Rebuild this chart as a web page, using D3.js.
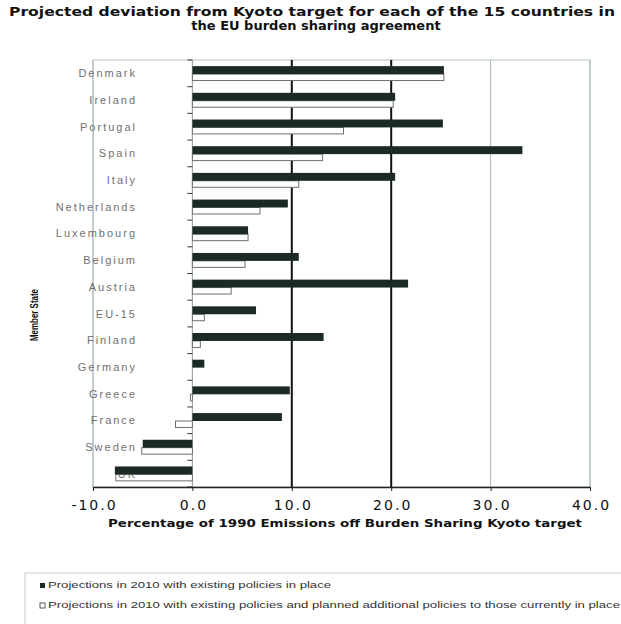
<!DOCTYPE html>
<html>
<head>
<meta charset="utf-8">
<script src="https://cdn.jsdelivr.net/npm/d3@7"></script>
<style>
  html, body { margin: 0; padding: 0; background: #fff; }
  svg { display: block; }
</style>
</head>
<body>
<script>
// Member states, top to bottom
const countries = ["Denmark", "Ireland", "Portugal", "Spain", "Italy", "Netherlands",
  "Luxembourg", "Belgium", "Austria", "EU-15", "Finland", "Germany", "Greece",
  "France", "Sweden", "UK"];
// Projections in 2010 with existing policies in place
const existing = [25.3, 20.4, 25.2, 33.2, 20.4, 9.6, 5.6, 10.7, 21.7, 6.4, 13.2, 1.2, 9.8, 9.0, -5.0, -7.8];
// Projections in 2010 with existing and planned additional policies
const planned = [25.3, 20.2, 15.2, 13.1, 10.7, 6.8, 5.6, 5.3, 3.9, 1.2, 0.8, 0.0, -0.2, -1.7, -5.1, -7.7];
const xTicks = [-10, 0, 10, 20, 30, 40];
const seriesNames = [
  "Projections in 2010 with existing policies in place",
  "Projections in 2010 with existing policies and planned additional policies to those currently in place"
];

const W = 621, H = 624;
const svg = d3.select("body").append("svg").attr("width", W).attr("height", H);

const plotL = 93, plotR = 590, plotT = 60, plotB = 487;
const x = d3.scaleLinear().domain([-10, 40]).range([plotL, plotR]);
const y = d3.scaleBand().domain(countries).range([plotT, plotB]).paddingInner(0.46).paddingOuter(0.23);
// filled bar takes the upper, slightly thicker share of each band
const split = 0.55;

// Title
const title = svg.append("text")
  .attr("font-family", "DejaVu Sans, Verdana, sans-serif")
  .attr("font-weight", "bold").attr("font-size", 13).attr("fill", "#111")
  .attr("text-anchor", "middle");
title.append("tspan").attr("x", 312).attr("y", 16)
  .attr("textLength", 606).attr("lengthAdjust", "spacingAndGlyphs")
  .text("Projected deviation from Kyoto target for each of the 15 countries in");
title.append("tspan").attr("x", 316).attr("y", 30)
  .text("the EU burden sharing agreement");

// Plot frame
svg.append("rect").attr("x", plotL).attr("y", plotT)
  .attr("width", plotR - plotL).attr("height", plotB - plotT)
  .attr("fill", "none").attr("stroke", "#b8c4c8").attr("stroke-width", 1);

// Vertical gridlines
xTicks.forEach(t => {
  const strong = (t === 10 || t === 20);
  svg.append("line")
    .attr("x1", x(t)).attr("x2", x(t)).attr("y1", plotT).attr("y2", plotB)
    .attr("stroke", strong ? "#111" : "#a9b8bd")
    .attr("stroke-width", strong ? 2 : 1);
});

// Y axis at zero with ticks between categories
svg.append("line").attr("x1", x(0)).attr("x2", x(0)).attr("y1", plotT).attr("y2", plotB)
  .attr("stroke", "#9aa8ad").attr("stroke-width", 1);
d3.range(countries.length + 1).forEach(i => {
  const yy = plotT + i * (plotB - plotT) / countries.length;
  svg.append("line").attr("x1", x(0) - 5).attr("x2", x(0)).attr("y1", yy).attr("y2", yy)
    .attr("stroke", "#333").attr("stroke-width", 1);
});

const rows = countries.map((c, i) => ({ c, vals: [existing[i], planned[i]] }));
function bar(sel, v, c, k) {
  const x0 = x(Math.min(0, v)), x1 = x(Math.max(0, v));
  const bw = y.bandwidth();
  const y0 = k === 0 ? y(c) : y(c) + bw * split;
  const h = k === 0 ? bw * split : bw * (1 - split);
  return sel.append("rect")
    .attr("x", x0).attr("y", y0)
    .attr("width", Math.max(0, x1 - x0)).attr("height", h);
}

// Open bars: additional policies
const gOpen = svg.append("g");
rows.forEach(r => {
  bar(gOpen, r.vals[1], r.c, 1)
    .attr("fill", "#fff").attr("stroke", "#6f6f6f").attr("stroke-width", 1);
});

// Category labels
svg.append("g").selectAll("text").data(countries).join("text")
  .attr("x", 137)
  .attr("y", d => y(d) + y.bandwidth() / 2 + 4)
  .attr("text-anchor", "end")
  .attr("font-family", "Liberation Sans, Arial, sans-serif")
  .attr("font-size", 11).attr("letter-spacing", 2)
  .attr("fill", "#707070")
  .text(d => d);

// Filled bars: existing policies
const gFill = svg.append("g");
rows.forEach(r => {
  bar(gFill, r.vals[0], r.c, 0).attr("fill", "#1b2a24");
});

// X axis
const xAxis = d3.axisBottom(x).tickValues(xTicks)
  .tickFormat(d => d3.format(".1f")(d).replace("\u2212", "-"))
  .tickSize(4).tickSizeOuter(0).tickPadding(9);
const ax = svg.append("g").attr("transform", `translate(0,${plotB})`).call(xAxis);
ax.select(".domain").attr("stroke", "#222").attr("stroke-width", 1.5);
ax.selectAll(".tick line").attr("stroke", "#222");
ax.selectAll(".tick text")
  .attr("font-family", "DejaVu Sans, Verdana, sans-serif")
  .attr("font-size", 14).attr("letter-spacing", 2).attr("dx", 1).attr("fill", "#111");

// Axis titles
svg.append("text").attr("x", 345).attr("y", 527)
  .attr("text-anchor", "middle")
  .attr("font-family", "DejaVu Sans, Verdana, sans-serif")
  .attr("font-weight", "bold").attr("font-size", 11).attr("fill", "#111")
  .attr("textLength", 474).attr("lengthAdjust", "spacingAndGlyphs")
  .text("Percentage of 1990 Emissions off Burden Sharing Kyoto target");

svg.append("text")
  .attr("transform", "translate(38,315) rotate(-90)")
  .attr("text-anchor", "middle")
  .attr("font-family", "Liberation Sans Narrow, Liberation Sans, Arial, sans-serif")
  .attr("font-weight", "bold").attr("font-size", 10).attr("fill", "#111")
  .attr("textLength", 52).attr("lengthAdjust", "spacingAndGlyphs")
  .text("Member State");

// Legend
svg.append("rect").attr("x", 25).attr("y", 573).attr("width", 610).attr("height", 60)
  .attr("fill", "none").attr("stroke", "#c8cccc");
seriesNames.forEach((s, k) => {
  const ly = 588 + k * 20;
  svg.append("rect").attr("x", 40).attr("y", ly - 5).attr("width", 5).attr("height", 5)
    .attr("fill", k === 0 ? "#1b2a24" : "#fff").attr("stroke", "#333").attr("stroke-width", k === 0 ? 0 : 0.8);
  svg.append("text").attr("x", 48).attr("y", ly)
    .attr("font-family", "Liberation Sans, Arial, sans-serif")
    .attr("font-size", 9).attr("fill", "#333")
    .attr("textLength", k === 0 ? 283 : 572).attr("lengthAdjust", "spacingAndGlyphs")
    .text(s);
});
</script>
</body>
</html>
